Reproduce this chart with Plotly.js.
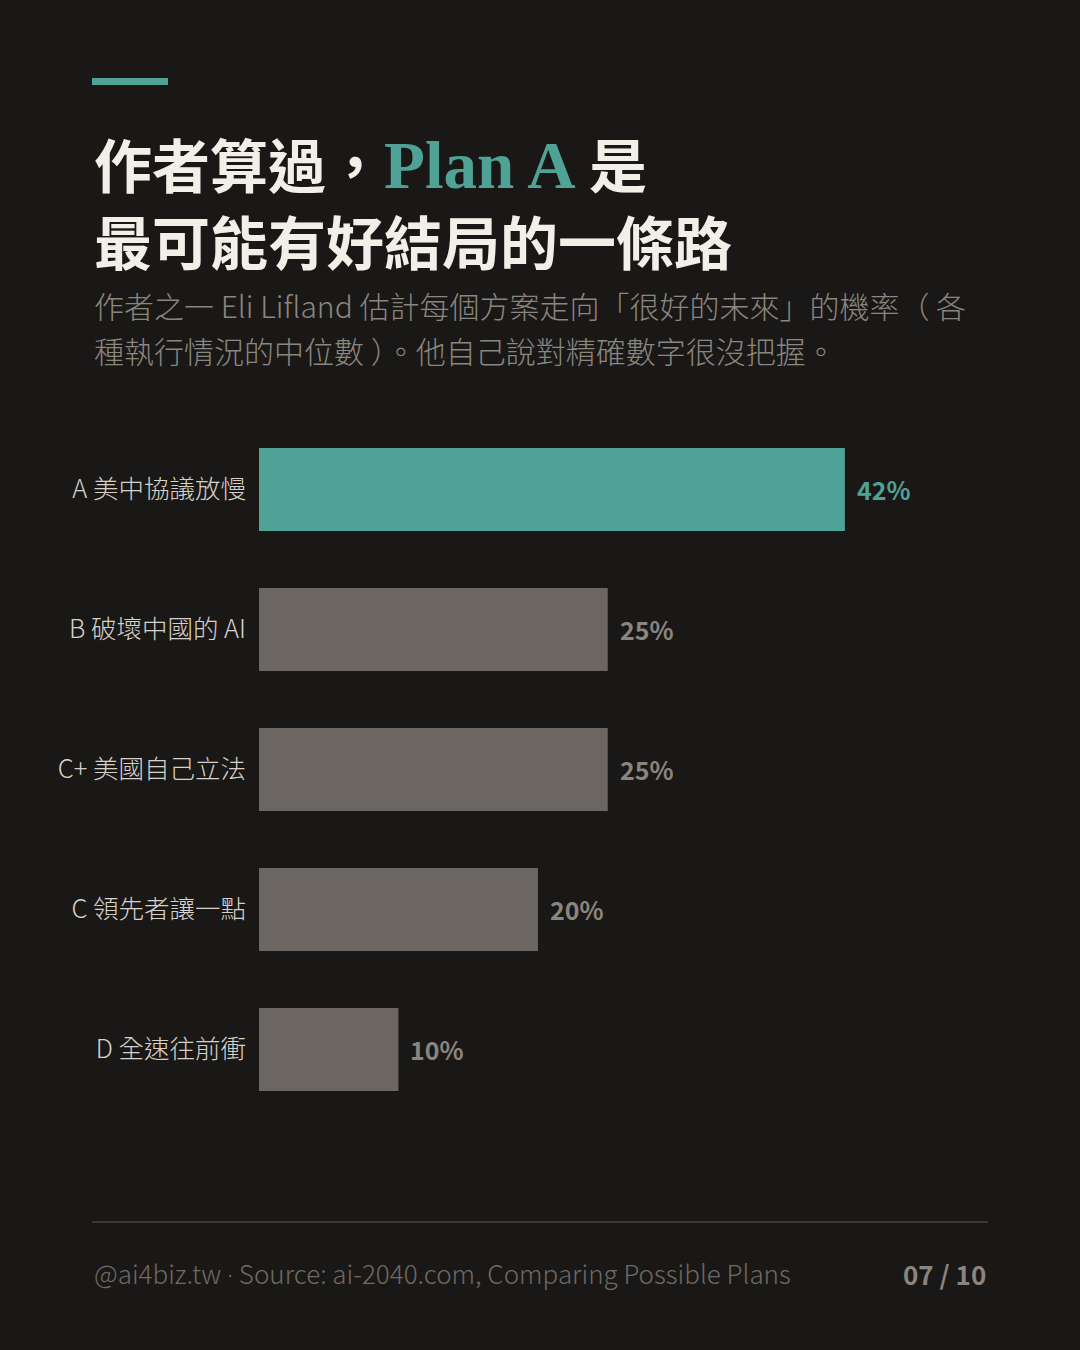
<!DOCTYPE html>
<html>
<head>
<meta charset="utf-8">
<script src="https://cdn.plot.ly/plotly-3.0.1.min.js"></script>
<style>
  html, body { margin: 0; padding: 0; background: #1a1816; }
  #chart { width: 1080px; height: 1350px; }
</style>
</head>
<body>
<div id="chart"></div>
<script>
// 資料
var plans = ["A 美中協議放慢", "B 破壞中國的 AI", "C+ 美國自己立法", "C 領先者讓一點", "D 全速往前衝"];
var chance = [42, 25, 25, 20, 10];
var barColors = ["#4fa396", "#6b6661", "#6b6661", "#6b6661", "#6b6661"];
var labelColors = ["#4fa396", "#8a857e", "#8a857e", "#8a857e", "#8a857e"];

var W = 1080, H = 1350;
var CJK = "Noto Sans CJK TC, Noto Sans, sans-serif";

function px(x) { return x / W; }
function py(y) { return 1 - y / H; }

var data = [{
    type: "bar",
    orientation: "h",
    x: chance,
    y: plans,
    marker: { color: barColors },
    hoverinfo: "skip"
}];

var annotations = [];

// 數值標籤
for (var i = 0; i < plans.length; i++) {
    annotations.push({
        x: chance[i], y: plans[i], xref: "x", yref: "y",
        text: chance[i] + "%",
        xanchor: "left", yanchor: "middle", xshift: 10, yshift: 1,
        showarrow: false,
        font: { family: CJK, size: 25, color: labelColors[i], weight: 600 }
    });
}

// 標題
annotations.push({
    x: px(92), y: py(163), xref: "paper", yref: "paper",
    xanchor: "left", yanchor: "middle", showarrow: false,
    text: '作者算過，<span style="color:#4fa396;font-family:Liberation Serif, DejaVu Serif, serif;font-size:67px">Plan A</span> 是',
    font: { family: CJK, size: 58, color: "#f2efe8", weight: 700 }
});
annotations.push({
    x: px(92), y: py(240), xref: "paper", yref: "paper",
    xanchor: "left", yanchor: "middle", showarrow: false,
    text: "最可能有好結局的一條路",
    font: { family: CJK, size: 58, color: "#f2efe8", weight: 700 }
});

// 副標
annotations.push({
    x: px(92), y: py(305), xref: "paper", yref: "paper",
    xanchor: "left", yanchor: "middle", showarrow: false,
    text: "作者之一 Eli Lifland 估計每個方案走向「很好的未來」的機率（ 各",
    font: { family: CJK, size: 30, color: "#8a8680", weight: 300 }
});
annotations.push({
    x: px(92), y: py(350), xref: "paper", yref: "paper",
    xanchor: "left", yanchor: "middle", showarrow: false,
    text: "種執行情況的中位數 ）。他自己說對精確數字很沒把握。",
    font: { family: CJK, size: 30, color: "#8a8680", weight: 300 }
});

// 頁尾
annotations.push({
    x: px(92), y: py(1273), xref: "paper", yref: "paper",
    xanchor: "left", yanchor: "middle", showarrow: false,
    text: '@ai4biz.tw <span style="font-family:Open Sans, sans-serif">·</span> Source: ai-2040.com, Comparing Possible Plans',
    font: { family: CJK, size: 26, color: "#6e6a64", weight: 300 }
});
annotations.push({
    x: px(988), y: py(1273), xref: "paper", yref: "paper",
    xanchor: "right", yanchor: "middle", showarrow: false,
    text: "07 / 10",
    font: { family: CJK, size: 26, color: "#8a857e", weight: 700 }
});

var layout = {
    width: W,
    height: H,
    margin: { t: 0, r: 0, l: 0, b: 0 },
    paper_bgcolor: "#1a1816",
    plot_bgcolor: "#1a1816",
    showlegend: false,
    bargap: 0.407,
    xaxis: {
        domain: [px(259), px(988)],
        range: [0, 52.26],
        visible: false,
        fixedrange: true
    },
    yaxis: {
        domain: [py(1119.5), py(419.5)],
        autorange: "reversed",
        showgrid: false,
        zeroline: false,
        showline: false,
        ticks: "",
        ticklabelstandoff: 12,
        tickfont: { family: CJK, size: 25.5, color: "#d6d2ca", weight: 300 },
        fixedrange: true
    },
    shapes: [
        // 頂部色塊
        { type: "rect", xref: "paper", yref: "paper",
          x0: px(92), x1: px(168), y0: py(85), y1: py(78),
          fillcolor: "#4fa396", line: { width: 0 } },
        // 頁尾分隔線
        { type: "line", xref: "paper", yref: "paper",
          x0: px(92), x1: px(988), y0: py(1222), y1: py(1222),
          line: { color: "#3a3835", width: 2 } }
    ],
    annotations: annotations
};

Plotly.newPlot("chart", data, layout, { displayModeBar: false, staticPlot: true });
</script>
</body>
</html>
